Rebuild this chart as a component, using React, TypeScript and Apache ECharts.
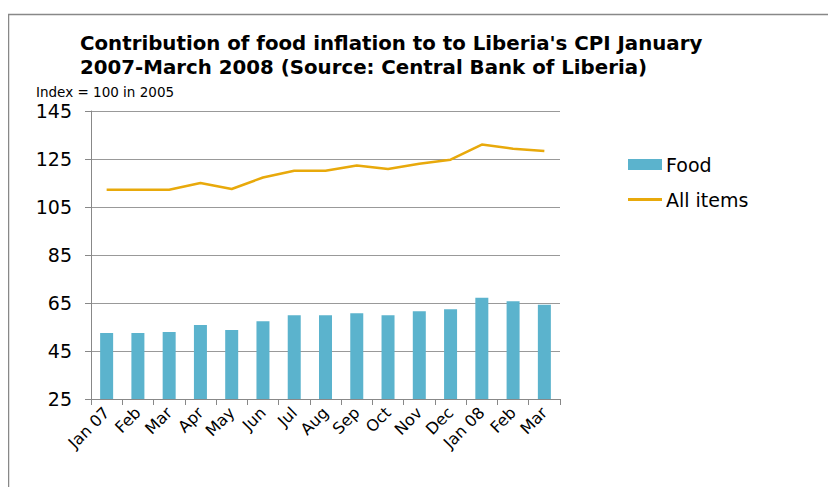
import React, { useEffect, useRef } from "react";
import * as echarts from "echarts";

const categories = ["Jan 07", "Feb", "Mar", "Apr", "May", "Jun", "Jul", "Aug", "Sep", "Oct", "Nov", "Dec", "Jan 08", "Feb", "Mar"];
const foodValues = [52.5, 52.5, 52.9, 55.8, 53.7, 57.4, 59.9, 59.9, 60.7, 59.9, 61.6, 62.4, 67.2, 65.7, 64.3];
const allItemsValues = [112.2, 112.2, 112.2, 115.0, 112.5, 117.3, 120.1, 120.1, 122.3, 120.8, 123.0, 124.7, 131.0, 129.3, 128.3];

const FONT = "DejaVu Sans, Verdana, sans-serif";

export default function App() {
  const ref = useRef<HTMLDivElement>(null);
  useEffect(() => {
    if (!ref.current) return;
    const chart = echarts.init(ref.current, undefined, { renderer: "svg" });
    chart.setOption({
      animation: false,
      backgroundColor: "#ffffff",
      title: {
        text: "Contribution of food inflation to to Liberia's CPI January\n2007-March 2008 (Source: Central Bank of Liberia)",
        left: 80,
        top: 31,
        padding: 0,
        textStyle: { fontFamily: FONT, fontWeight: "bold", fontSize: 19.8, lineHeight: 24, color: "#000" },
      },
      graphic: [
        { type: "line", shape: { x1: 8, y1: 14.5, x2: 836, y2: 14.5 }, style: { stroke: "#888", lineWidth: 1.5 } },
        { type: "line", shape: { x1: 8.5, y1: 14, x2: 8.5, y2: 495 }, style: { stroke: "#888", lineWidth: 1.5 } },
        { type: "text", left: 36, top: 85, style: { text: "Index = 100 in 2005", font: "13.5px " + FONT, fill: "#000" } },
      ],
      legend: [
        {
          data: ["Food"],
          left: 628,
          top: 155,
          padding: 0,
          icon: "rect",
          itemWidth: 34,
          itemHeight: 11,
          textStyle: { fontFamily: FONT, fontSize: 19, color: "#000", padding: [0, 0, 0, -1] },
        },
        {
          data: ["All items"],
          left: 628,
          top: 190,
          padding: 0,
          icon: "rect",
          itemWidth: 34,
          itemHeight: 3,
          textStyle: { fontFamily: FONT, fontSize: 19, color: "#000", padding: [0, 0, 0, -1] },
        },
      ],
      grid: { left: 91, right: 276, top: 111, bottom: 96, containLabel: false },
      xAxis: {
        type: "category",
        data: categories,
        boundaryGap: true,
        axisLine: { lineStyle: { color: "#888", width: 1 } },
        axisTick: { show: true, length: 6, lineStyle: { color: "#888" } },
        axisLabel: { rotate: 45, fontFamily: FONT, fontSize: 16, color: "#000", margin: 11, interval: 0 },
      },
      yAxis: {
        type: "value",
        min: 25,
        max: 145,
        interval: 20,
        axisLine: { show: true, lineStyle: { color: "#888" } },
        axisTick: { show: true, length: 6, lineStyle: { color: "#888" } },
        splitLine: { lineStyle: { color: "#999", width: 1 } },
        axisLabel: { fontFamily: FONT, fontSize: 19, color: "#000", margin: 19 },
      },
      series: [
        {
          name: "Food",
          type: "bar",
          data: foodValues,
          barWidth: 13,
          itemStyle: { color: "#5BB3CD" },
        },
        {
          name: "All items",
          type: "line",
          data: allItemsValues,
          symbol: "none",
          lineStyle: { color: "#E8A90B", width: 2.5 },
          itemStyle: { color: "#E8A90B" },
        },
      ],
    });
    return () => chart.dispose();
  }, []);
  return <div ref={ref} style={{ width: 836, height: 495, margin: -8 }} />;
}
